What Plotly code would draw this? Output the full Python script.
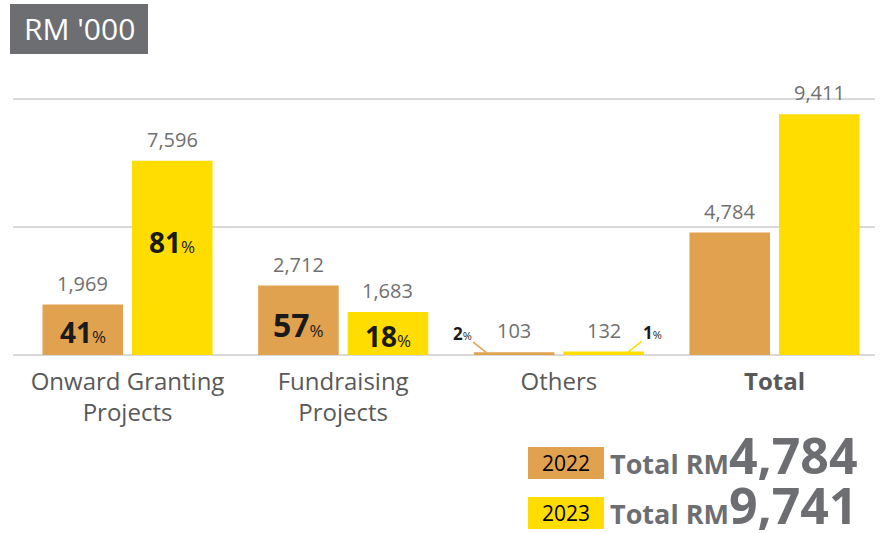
import plotly.graph_objects as go

# datos del gráfico
categories = ["Onward Granting Projects", "Fundraising Projects", "Others", "Total"]
tick_labels = ["Onward Granting<br>Projects", "Fundraising<br>Projects", "Others", "<b>Total</b>"]
years = ["2022", "2023"]
values_2022 = [1969, 2712, 103, 4784]
values_2023 = [7596, 1683, 132, 9411]
pct_2022 = ["41", "57", "2", ""]
pct_2023 = ["81", "18", "1", ""]
year_totals = ["4,784", "9,741"]

ORANGE = "#E0A24E"
YELLOW = "#FFDD00"
GREY = "#6D6E71"
FONT = "Open Sans"

# geometría (píxeles)
W, H = 889, 533
ML, MR, MT, MB = 13, 14, 94, 178
PW, PH = W - ML - MR, H - MT - MB


def px_x(px):
    return (px - ML) / PW


def px_y(py):
    return (H - MB - py) / PH


fig = go.Figure()

for year, vals, color in [(years[0], values_2022, ORANGE), (years[1], values_2023, YELLOW)]:
    fig.add_trace(
        go.Bar(
            x=categories,
            y=vals,
            name=year,
            marker_color=color,
            marker_line_width=0,
            showlegend=False,
            cliponaxis=False,
        )
    )

annotations = []
offset = 44.75  # mitad de la ranura de cada barra, en píxeles

series = [
    (values_2022, pct_2022, -1, ORANGE, [-2, -4, 0, 0], -28),
    (values_2023, pct_2023, 1, YELLOW, [16, -3, 0, 0], 25),
]

for vals, pcts, sign, color, pct_shift, tip_dx in series:
    for cat, v, p, dy in zip(categories, vals, pcts, pct_shift):
        # valor encima de la barra
        annotations.append(dict(
            x=cat, y=v, xshift=sign * offset, yshift=6,
            text=f"{v:,}", showarrow=False, yanchor="bottom",
            font=dict(family=FONT, size=20, color="#707070"),
        ))
        if not p:
            continue
        if v > 1000:
            size = 32 if v > 2500 and v < 5000 else 28
            annotations.append(dict(
                x=cat, y=v / 2, xshift=sign * offset, yshift=dy,
                text=f"<b>{p}</b><span style='font-size:17px'>%</span>",
                showarrow=False,
                font=dict(family=FONT, size=size, color="#1A1A1A"),
            ))
        else:
            # porcentaje pequeño con línea guía
            annotations.append(dict(
                x=cat, y=v, xshift=sign * offset + tip_dx,
                ax=24 * sign, ay=-19,
                text=f"<b>{p}</b><span style='font-size:11px'>%</span>",
                showarrow=True, arrowhead=0, arrowwidth=1.5, arrowcolor=color,
                standoff=0,
                font=dict(family=FONT, size=17, color="#1A1A1A"),
            ))

# cuadro de título
annotations.append(dict(
    xref="paper", yref="paper", x=px_x(79), y=px_y(29),
    xanchor="center", yanchor="middle",
    text="RM '000", showarrow=False,
    font=dict(family=FONT, size=30, color="white"),
))

# leyenda con totales
for i, (year, color, tot) in enumerate(zip(years, [ORANGE, YELLOW], year_totals)):
    top = 447 + i * 50
    annotations.append(dict(
        xref="paper", yref="paper", x=px_x(566), y=px_y(top + 16),
        xanchor="center", yanchor="middle",
        text=year, showarrow=False,
        font=dict(family=FONT, size=21, color="black"),
    ))
    annotations.append(dict(
        xref="paper", yref="paper", x=px_x(608), y=px_y(top + 16), yshift=8,
        xanchor="left", yanchor="middle",
        text=f"<b>Total RM</b><b><span style='font-size:50px'>{tot}</span></b>",
        showarrow=False,
        font=dict(family=FONT, size=27, color=GREY),
    ))

shapes = [
    dict(type="rect", xref="paper", yref="paper",
         x0=px_x(10), x1=px_x(148), y0=px_y(54), y1=px_y(4),
         fillcolor=GREY, line_width=0, layer="below"),
    dict(type="rect", xref="paper", yref="paper",
         x0=px_x(528), x1=px_x(604), y0=px_y(479), y1=px_y(447),
         fillcolor=ORANGE, line_width=0, layer="below"),
    dict(type="rect", xref="paper", yref="paper",
         x0=px_x(528), x1=px_x(604), y0=px_y(529), y1=px_y(497),
         fillcolor=YELLOW, line_width=0, layer="below"),
]

fig.update_layout(
    width=W, height=H,
    margin=dict(l=ML, r=MR, t=MT, b=MB),
    plot_bgcolor="white", paper_bgcolor="white",
    barmode="group", bargap=0.17, bargroupgap=0.1,
    annotations=annotations,
    shapes=shapes,
    font=dict(family=FONT),
)

fig.update_xaxes(
    range=[-0.531, 3.466],
    tickvals=categories, ticktext=tick_labels,
    tickfont=dict(family=FONT, size=24, color="#595959"),
    ticklabelstandoff=10,
    showgrid=False, showline=False, ticks="",
)

fig.update_yaxes(
    range=[0, 10200], tickvals=[0, 5000, 10000],
    showticklabels=False, showgrid=True, gridcolor="#D9D9D9", gridwidth=2,
    zeroline=True, zerolinecolor="#D9D9D9", zerolinewidth=2,
)

# quitar el margen por defecto del body
fig.write_html(
    "out.html",
    config={"displayModeBar": False},
    post_script="document.body.style.margin = '0';",
)
